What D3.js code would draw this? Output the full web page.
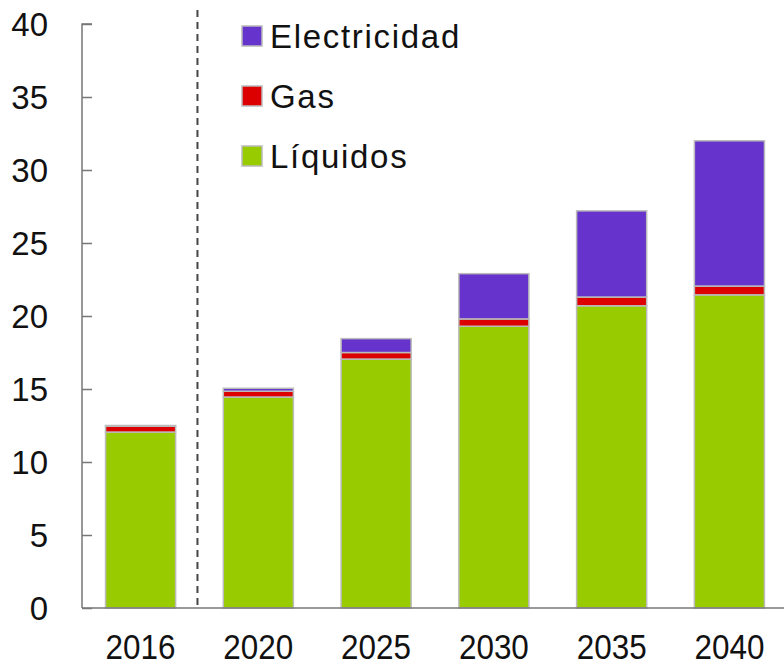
<!DOCTYPE html>
<html><head><meta charset="utf-8">
<script src="https://cdn.jsdelivr.net/npm/d3@7"></script>
<style>body{margin:0;background:#fff}svg{display:block}</style>
</head><body>
<svg id="c" width="784" height="667"></svg>
<script>
const years = ["2016","2020","2025","2030","2035","2040"];
const liquidos = [12.05, 14.45, 17.05, 19.3, 20.7, 21.45];
const gas = [0.4, 0.4, 0.45, 0.5, 0.6, 0.6];
const electricidad = [0.05, 0.2, 0.95, 3.1, 5.9, 9.95];
const yTicks = [0,5,10,15,20,25,30,35,40];
const seriesNames = ["Líquidos","Gas","Electricidad"];
const colors = {"Líquidos":"#99CC00","Gas":"#DD0000","Electricidad":"#6633CC"};

const svg = d3.select("#c");
const x0 = 82, yBase = 608, yTop = 24;
const x = d3.scaleBand().domain(years).range([x0, 788]).paddingInner(0.405).paddingOuter(0.2);
const y = d3.scaleLinear().domain([0,40]).range([yBase, yTop]);

const table = years.map((yr,i)=>({year:yr,"Líquidos":liquidos[i],"Gas":gas[i],"Electricidad":electricidad[i]}));
const stack = d3.stack().keys(seriesNames)(table);

svg.append("g").selectAll("g").data(stack).join("g")
  .attr("fill", d=>colors[d.key])
  .selectAll("rect").data(d=>d).join("rect")
  .attr("x", d=>x(d.data.year))
  .attr("width", x.bandwidth())
  .attr("y", d=>y(d[1]))
  .attr("height", d=>y(d[0])-y(d[1]))
  .attr("stroke","#bbbbbb").attr("stroke-width",1.5);

// dashed separator
const sepX = (x("2016")+x.bandwidth()+x("2020"))/2 - 2;
svg.append("line").attr("x1",sepX).attr("x2",sepX).attr("y1",10).attr("y2",yBase)
  .attr("stroke","#444").attr("stroke-width",2).attr("stroke-dasharray","7,5");

// y axis
const ya = svg.append("g").attr("transform",`translate(${x0},0)`)
  .call(d3.axisRight(y).tickValues(yTicks).tickSize(10).tickFormat(""));
ya.select(".domain").attr("stroke","#777").attr("stroke-width",1.5).attr("d",`M10,${yTop}H0V${yBase}`);
ya.selectAll(".tick line").attr("stroke","#777").attr("stroke-width",1.5);
svg.append("g").selectAll("text").data(yTicks).join("text")
  .attr("x",48).attr("y",d=>y(d)).attr("dy","0.36em").attr("text-anchor","end")
  .attr("font-family","Liberation Sans, Arial, sans-serif").attr("font-size",33).attr("fill","#111")
  .text(d=>d);

// x axis
const xa = svg.append("g").attr("transform",`translate(0,${yBase})`)
  .call(d3.axisBottom(x).tickSize(0).tickPadding(0));
xa.select(".domain").attr("stroke","#777").attr("stroke-width",1.5).attr("d",`M${x0},0H784`);
xa.selectAll(".tick text").attr("y",51).attr("dy","0").attr("font-family","Liberation Sans, Arial, sans-serif")
  .attr("font-size",35).attr("fill","#111")
  .attr("textLength",70).attr("lengthAdjust","spacingAndGlyphs");

// legend
const leg = ["Electricidad","Gas","Líquidos"];
const lg = svg.append("g").selectAll("g").data(leg).join("g")
  .attr("transform",(d,i)=>`translate(242,${36+i*60})`);
lg.append("rect").attr("x",0).attr("y",-10).attr("width",20).attr("height",20)
  .attr("fill",d=>colors[d]).attr("stroke","#bbb").attr("stroke-width",1.5);
lg.append("text").attr("x",28).attr("y",0).attr("dy","0.36em")
  .attr("font-family","Liberation Sans, Arial, sans-serif").attr("font-size",33).attr("letter-spacing",1.7)
  .attr("fill","#111").text(d=>d);
</script>
</body></html>
